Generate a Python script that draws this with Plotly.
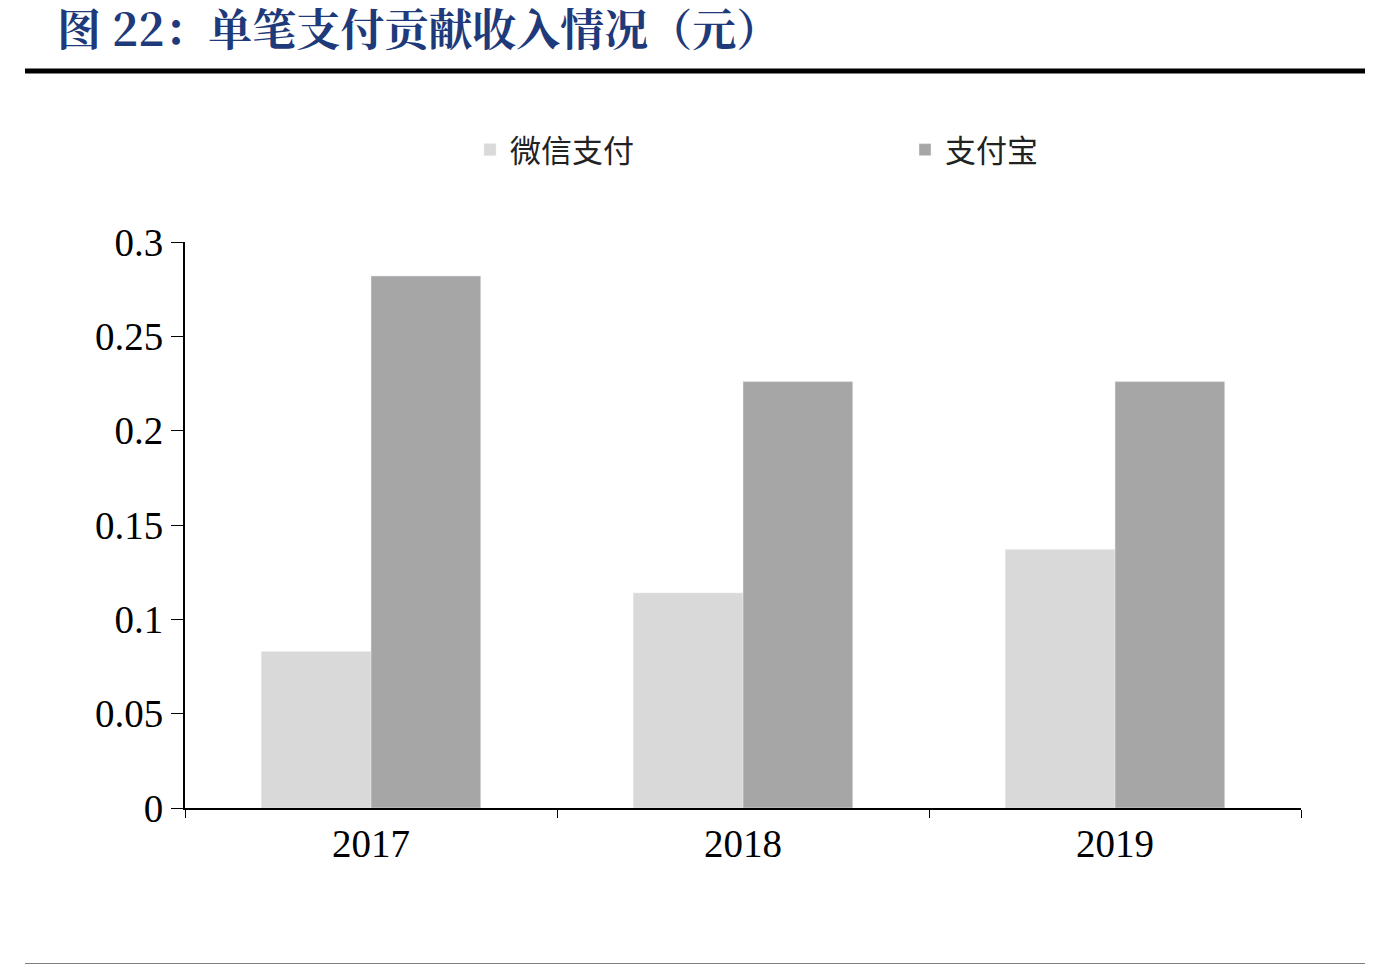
import plotly.graph_objects as go

years = ["2017", "2018", "2019"]
wechat = [0.083, 0.114, 0.137]
alipay = [0.282, 0.226, 0.226]
yticks = [0, 0.05, 0.1, 0.15, 0.2, 0.25, 0.3]
ytick_text = ["0", "0.05", "0.1", "0.15", "0.2", "0.25", "0.3"]

fig = go.Figure()
fig.add_bar(x=years, y=wechat, name="微信支付", marker_color="#d9d9d9")
fig.add_bar(x=years, y=alipay, name="支付宝", marker_color="#a6a6a6")

O = 8  # page body margin
W, H = 1376 - 2 * O, 972 - 2 * O
l, r, t, b = 185 - O, 75 - O, 242 - O, 164 - O
pw, ph = W - l - r, H - t - b
def px(x): return (x - O - l) / pw
def py(y): return (H - b - (y - O)) / ph

fig.update_layout(
    width=W, height=H, plot_bgcolor="white", paper_bgcolor="white",
    margin=dict(l=l, r=r, t=t, b=b),
    barmode="group", bargap=0.41, bargroupgap=0,
    font=dict(family="Liberation Serif", size=39, color="black"),
    legend=dict(orientation="h", x=px(470), xanchor="left", y=py(150), yanchor="middle",
                font=dict(family="Noto Sans CJK SC", size=31, color="#222"),
                entrywidth=390),
    xaxis=dict(showline=True, linecolor="black", linewidth=2, ticks="outside",
               tickson="boundaries", ticklen=8, tickcolor="black", showgrid=False),
    yaxis=dict(range=[0, 0.3], tickvals=yticks, ticktext=ytick_text, showline=True,
               linecolor="black", linewidth=2, ticks="outside", ticklen=12,
               tickcolor="black", showgrid=False, zeroline=False),
    shapes=[
        dict(type="line", xref="paper", yref="paper", x0=px(25), x1=px(1365),
             y0=py(71), y1=py(71), line=dict(color="black", width=5)),
        dict(type="line", xref="paper", yref="paper", x0=px(25), x1=px(1365),
             y0=py(966), y1=py(966), line=dict(color="black", width=5)),
    ],
    annotations=[dict(text="<b>图 22：单笔支付贡献收入情况（元）</b>", xref="paper", yref="paper",
                      x=px(55), y=py(27), xanchor="left", yanchor="middle", showarrow=False,
                      font=dict(family="Noto Serif CJK SC, Noto Sans CJK SC", size=44, color="#1f3a7a"))],
)
fig.write_html("out.html")
